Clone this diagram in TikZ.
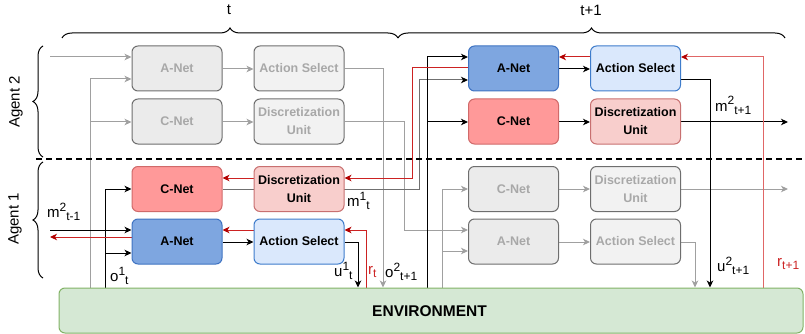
\documentclass[tikz,border=0pt]{standalone}
\usepackage{fontspec}
\setmainfont{Liberation Sans}
\usetikzlibrary{arrows.meta,decorations.pathreplacing,calc}
\definecolor{ablue}{HTML}{7EA6E0}
\definecolor{ablueD}{HTML}{3F73C2}
\definecolor{lblue}{HTML}{DAE8FC}
\definecolor{lblueD}{HTML}{3E7CCB}
\definecolor{cred}{HTML}{FF9999}
\definecolor{credD}{HTML}{D06A6A}
\definecolor{pink}{HTML}{F8CECC}
\definecolor{pinkD}{HTML}{C87070}
\definecolor{gfill}{HTML}{EBEBEB}
\definecolor{gfillL}{HTML}{F2F2F2}
\definecolor{gdraw}{HTML}{6E6E6E}
\definecolor{gtext}{HTML}{A8A8A8}
\definecolor{gline}{HTML}{A0A0A0}
\definecolor{dkline}{HTML}{707070}
\definecolor{envF}{HTML}{D5E8D4}
\definecolor{envD}{HTML}{82B366}
\definecolor{redA}{HTML}{B20000}
\definecolor{redL}{HTML}{CC2222}
\definecolor{redP}{HTML}{E06666}
\newcommand\mysup[1]{\raisebox{6pt}{\fontsize{12}{12}\selectfont #1}}
\newcommand\mysub[1]{\raisebox{-3.5pt}{\fontsize{12}{12}\selectfont #1}}
\pgfdeclarelayer{bg}
\pgfsetlayers{bg,main}
\begin{document}
\begin{tikzpicture}[x=1pt,y=-1pt,
  box/.style={rounded corners=6pt, minimum width=90pt, minimum height=45pt, draw, line width=1pt,
    font=\fontsize{12.5}{18}\selectfont\bfseries, align=center, inner sep=0pt},
  bA/.style={box, fill=ablue, draw=ablueD},
  bAS/.style={box, fill=lblue, draw=lblueD},
  bC/.style={box, fill=cred, draw=credD},
  bD/.style={box, fill=pink, draw=pinkD},
  bG/.style={box, fill=gfill, draw=gdraw, text=gtext},
  bGL/.style={box, fill=gfillL, draw=gdraw, text=gtext},
  blk/.style={-{Stealth[length=7pt,width=6.5pt,inset=2pt]}, draw=black, line width=1pt},
  gra/.style={-{Stealth[length=7pt,width=6.5pt,inset=2pt]}, draw=gline, line width=1pt},
  rd/.style={-{Stealth[length=7pt,width=6.5pt,inset=2pt,color=redA]}, draw=redL, line width=1pt},
  rdp/.style={-{Stealth[length=7pt,width=6.5pt,inset=2pt,color=redA]}, draw=redP, line width=1pt},
  lbl/.style={font=\fontsize{15}{17}\selectfont, inner sep=0pt},
  brc/.style={decorate, decoration={brace, amplitude=10pt}, line width=1pt}
]
\useasboundingbox (0,0) rectangle (805,334);

% boxes
\node[bG]  (gA2)  at (177,68.5)   {A-Net};
\node[bGL] (gAS2) at (299,68.5)   {Action Select};
\node[bG]  (gC2)  at (177,121.5)  {C-Net};
\node[bGL] (gD2)  at (299,121.5)  {Discretization\\Unit};

\node[bA]  (A2)  at (513.5,68.5)  {A-Net};
\node[bAS] (AS2) at (635.5,68.5)  {Action Select};
\node[bC]  (C2)  at (513.5,121.5) {C-Net};
\node[bD]  (D2)  at (635.5,121.5) {Discretization\\Unit};

\node[bC]  (C1)  at (177,189)     {C-Net};
\node[bD]  (D1)  at (299,189)     {Discretization\\Unit};
\node[bA]  (A1)  at (177,241.5)   {A-Net};
\node[bAS] (AS1) at (299,241.5)   {Action Select};

\node[bG]  (gC1)  at (513.5,189)   {C-Net};
\node[bGL] (gD1)  at (635.5,189)   {Discretization\\Unit};
\node[bG]  (gA1)  at (513.5,241.5) {A-Net};
\node[bGL] (gAS1) at (635.5,241.5) {Action Select};

\node[rounded corners=6pt, draw=envD, fill=envF, line width=1pt, minimum width=744pt, minimum height=45pt,
  font=\fontsize{15.5}{17}\selectfont\bfseries, inner sep=0pt] (env) at (431,310.5) {};
\node[font=\fontsize{15.5}{17}\selectfont\bfseries, inner sep=0pt] (envt) at (429.5,311) {ENVIRONMENT};

% free ends
\coordinate (inG) at (50,57);
\coordinate (inB) at (50,230);
\coordinate (outR) at (50,237);
\coordinate (outM2) at (788,122);
\coordinate (outG) at (788,189);

\begin{pgfonlayer}{bg}
% grey, agent 2 at t
\draw[gra] (inG) -- (gA2.west |- 0,57);
\draw[gra] (env.north -| 90,0) |- (gA2.west |- 0,79);
\draw[gra] (90,122) -- (gC2.west |- 0,122);
\draw[gra] (gA2.east |- 0,69) -- (gAS2.west |- 0,69);
\draw[gra] (gC2.east |- 0,122) -- (gD2.west |- 0,122);
\draw[gra] (gAS2.east |- 0,69) -| (env.north -| 383,0);
\draw[gra] (gD2.east |- 0,122) -| (404,230) -- (gA1.west |- 0,230);
% grey, agent 1 at t+1
\draw[gra] (env.north -| 442,0) |- (gC1.west |- 0,189);
\draw[gra] (442,251) -- (gA1.west |- 0,251);
\draw[gra] (gA1.east |- 0,242) -- (gAS1.west |- 0,242);
\draw[gra] (gC1.east |- 0,189) -- (gD1.west |- 0,189);
\draw[gra] (gD1.east |- 0,189) -- (outG);
\draw[gra] (gAS1.east |- 0,242) -| (env.north -| 695,0);

% black, agent 1 at t
\draw[blk] (inB) -- (A1.west |- 0,230);
\draw[blk] (env.north -| 105,0) |- (C1.west |- 0,189);
\draw[blk] (105,253) -- (A1.west |- 0,253);
\draw[blk] (A1.east |- 0,242) -- (AS1.west |- 0,242);
\draw[blk] (AS1.east |- 0,242) -| (env.north -| 358,0);
\draw[-{Stealth[length=7pt,width=6.5pt,inset=2pt,color=black]}, draw=dkline, line width=1pt]
  (C1.east |- 0,189) -- (419,189) |- (A2.west |- 0,80);
% black, agent 2 at t+1
\draw[blk] (env.north -| 427,0) |- (A2.west |- 0,57);
\draw[blk] (427,122) -- (C2.west |- 0,122);
\draw[blk] (A2.east |- 0,69) -- (AS2.west |- 0,69);
\draw[blk] (C2.east |- 0,122) -- (D2.west |- 0,122);
\draw[blk] (D2.east |- 0,122) -- (outM2);
\draw[blk] (AS2.east |- 0,80) -| (env.north -| 710,0);

% red (backward)
\draw[rd] (A1.west |- 0,237) -- (outR);
\draw[rd] (AS1.west |- 0,230) -- (A1.east |- 0,230);
\draw[rd] (D1.west |- 0,178) -- (C1.east |- 0,178);
\draw[rd] (A2.west |- 0,68) -| (412,178) -- (D1.east |- 0,178);
\draw[rd] (AS2.west |- 0,57) -- (A2.east |- 0,57);
\draw[rd] (env.north -| 366,0) |- (AS1.east |- 0,230);
\draw[rdp] (env.north -| 763,0) |- (AS2.east |- 0,57);
\end{pgfonlayer}

% agent separator
\draw[line width=2pt, dash pattern=on 6pt off 4pt] (36,159) -- (805,159);

% braces
\draw[brc] (62,38) -- (398,38);
\draw[brc] (398,38) -- (785,38);
\draw[brc] (43,157) -- (43,46);
\draw[brc] (43,278) -- (43,162);

% labels
\node[lbl] (lt)  at (229,10) {t};
\node[lbl] (lt1) at (591,10) {t+1};
\node[lbl, rotate=90] (ag2) at (16,102) {Agent 2};
\node[lbl, rotate=90] (ag1) at (15,219) {Agent 1};
\node[lbl, anchor=base west] (m2tm1) at (47,217) {m\mysup{2}\mysub{t-1}};
\node[lbl, anchor=base west] (o1t) at (110,281) {o\mysup{1}\mysub{t}};
\node[lbl, anchor=base west] (m1t) at (347,206) {m\mysup{1}\mysub{t}};
\node[lbl, anchor=base west] (u1t) at (334,276) {u\mysup{1}\mysub{t}};
\node[lbl, anchor=base west, text=redL] (rt) at (368,274) {r\mysub{t}};
\node[lbl, anchor=base west] (o2t1) at (385,277) {o\mysup{2}\mysub{t+1}};
\node[lbl, anchor=base west] (m2t1) at (715,111) {m\mysup{2}\mysub{t+1}};
\node[lbl, anchor=base west] (u2t1) at (717,271) {u\mysup{2}\mysub{t+1}};
\node[lbl, anchor=base west, text=redL] (rt1) at (777,266) {r\mysub{t+1}};
\end{tikzpicture}
\end{document}
